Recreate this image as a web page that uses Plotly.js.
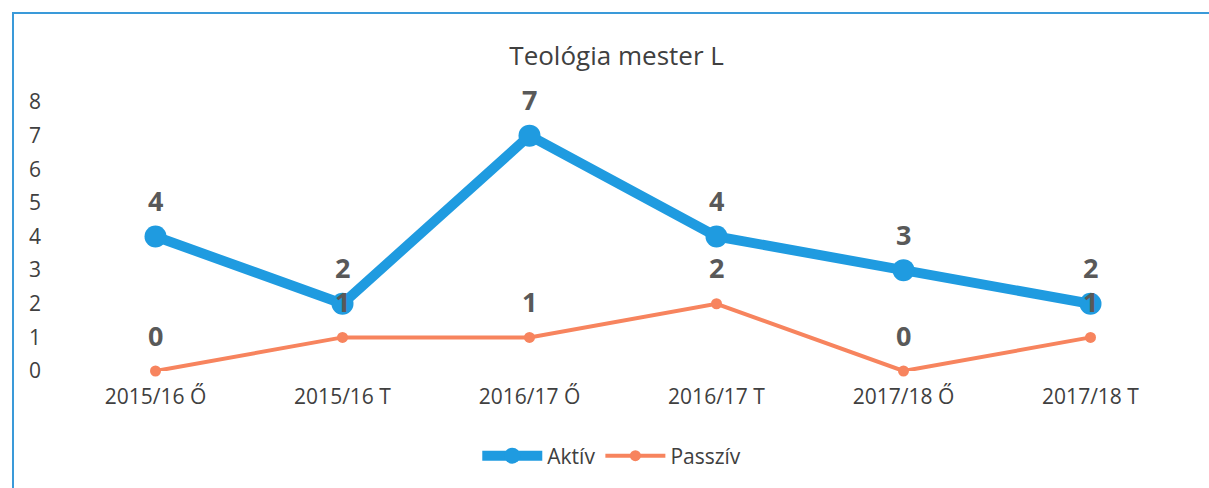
<!DOCTYPE html>
<html>
<head>
<meta charset="utf-8">
<script src="https://cdn.plot.ly/plotly-3.0.1.min.js"></script>
<style>
  html, body { margin: 0; padding: 0; background: #fff; }
  #wrap { position: relative; width: 1209px; height: 488px; }
  #chart { width: 1209px; height: 488px; }
  #frame { position: absolute; left: 12px; top: 12px; width: 1197px; height: 476px;
           border-left: 2px solid #3a9ad9; border-top: 2px solid #3a9ad9; pointer-events: none; }
</style>
</head>
<body>
<div id="wrap">
  <div id="chart"></div>
  <div id="frame"></div>
</div>
<script>
const categories = ["2015/16 Ő", "2015/16 T", "2016/17 Ő", "2016/17 T", "2017/18 Ő", "2017/18 T"];
const aktiv = [4, 2, 7, 4, 3, 2];
const passziv = [0, 1, 1, 2, 0, 1];
const yTicks = [0, 1, 2, 3, 4, 5, 6, 7, 8];

const blue = "#1f9be0";
const orange = "#f7845e";
const fam = "'Open Sans', Lato, sans-serif";
const labelFont = { family: fam, size: 27, color: "#595959", weight: "bold" };

const traces = [
  {
    x: categories, y: aktiv, name: "Aktív", type: "scatter", mode: "lines+markers",
    line: { color: blue, width: 10 }, marker: { color: blue, size: 22 }, cliponaxis: false
  },
  {
    x: categories, y: passziv, name: "Passzív", type: "scatter", mode: "lines+markers",
    line: { color: orange, width: 4 }, marker: { color: orange, size: 11 }, cliponaxis: false
  }
];

const annotations = [];
categories.forEach((c, i) => {
  annotations.push({ x: c, y: aktiv[i], text: String(aktiv[i]), showarrow: false, yshift: 36, font: labelFont });
  annotations.push({ x: c, y: passziv[i], text: String(passziv[i]), showarrow: false, yshift: 36, font: labelFont });
});

const layout = {
  width: 1209, height: 488,
  paper_bgcolor: "#ffffff", plot_bgcolor: "#ffffff",
  margin: { l: 62, r: 25, t: 102, b: 117 },
  title: { text: "Teológia mester L", x: 0.51, xanchor: "center", y: 0.885, yanchor: "middle",
    font: { family: fam, size: 26, color: "#404040" } },
  xaxis: {
    type: "category", range: [-0.5, 5.5], showgrid: false, zeroline: false, showline: false,
    tickfont: { family: fam, size: 21, color: "#404040" },
    ticks: "", ticklabelstandoff: 11, automargin: false
  },
  yaxis: {
    range: [0, 8], tickvals: yTicks, ticktext: yTicks.map(String),
    showgrid: false, zeroline: false, showline: false, ticks: "",
    tickfont: { family: fam, size: 21, color: "#404040" },
    ticklabelstandoff: 20, automargin: false
  },
  showlegend: true,
  legend: { orientation: "h", x: 0.49, xanchor: "center", y: -0.316, yanchor: "middle",
    font: { family: fam, size: 21, color: "#404040" },
    itemwidth: 60, tracegroupgap: 0 },
  annotations: annotations
};

Plotly.newPlot("chart", traces, layout, { displayModeBar: false, staticPlot: true });
</script>
</body>
</html>
